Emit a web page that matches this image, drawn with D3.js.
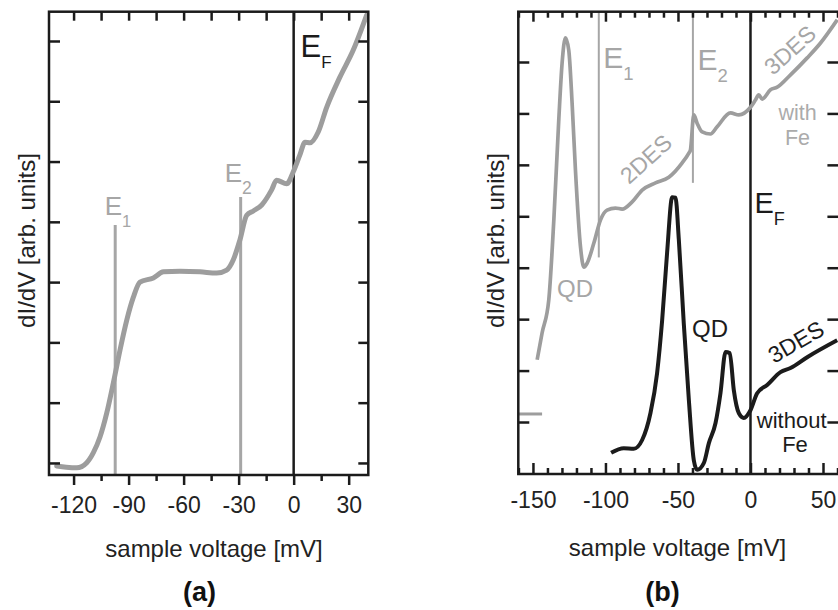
<!DOCTYPE html>
<html><head><meta charset="utf-8">
<script src="https://cdn.jsdelivr.net/npm/d3@7"></script>
<style>
body{margin:0;background:#fff}
svg{display:block}
text{font-family:"Liberation Sans",Arial,Helvetica,sans-serif}
</style>
</head><body>
<svg id="c" width="838" height="610"></svg>
<script>
// ---------- DATA ----------
// Panel (a): dI/dV spectrum
const aVolt = [-129.2,-124,-118.3,-112.8,-109.2,-105.6,-101.9,-98.3,-94.7,-91,-87.4,-83.8,-76.5,-71,-62,-51,-42,-36.5,-32.9,-29.3,-25.6,-22,-17.4,-12,-9.3,-3.8,-0.2,3.4,6.2,8.9,13.4,18,25.2,32.5,39.8];
const aDidv = [-0.05,-0.07,-0.08,0.005,0.17,0.43,0.83,1.33,1.87,2.37,2.75,3.0,3.07,3.17,3.18,3.17,3.15,3.2,3.37,3.70,4.11,4.18,4.28,4.53,4.69,4.63,4.83,5.11,5.32,5.31,5.49,5.90,6.40,6.85,7.43];
const aMajorTicks = [-120,-90,-60,-30,0,30];
const aMinorTicks = [-105,-75,-45,-15,15];
const aLevels = {E1:-97.3, E2:-28.9, EF:0};

// Panel (b): with Fe (gray) and without Fe (black)
const bWithVolt = [-147.1,-143.7,-139.1,-135.6,-132.2,-129.9,-127.6,-125.3,-123,-120.7,-117.2,-114.9,-112.6,-108,-103.4,-98.9,-93.1,-88.5,-81.6,-74.7,-65.5,-56.3,-47.1,-42.5,-41.4,-39.1,-36.8,-33.3,-27.6,-23,-13.8,-8,0,3.4,5.7,8,13.8,18.4,27.6,39.1,48.3,59.8];
const bWithDidv = [1.21,1.73,2.37,3.93,5.87,6.98,7.47,7.23,6.20,4.90,3.40,3.01,3.09,3.48,3.93,4.12,4.16,4.14,4.28,4.51,4.65,4.76,5.04,5.23,5.29,5.97,5.81,5.64,5.60,5.74,6.01,5.97,6.12,6.26,6.36,6.28,6.46,6.51,6.75,7.08,7.37,7.82];
const bWithoutVolt = [-96.1,-87.4,-80.5,-74.7,-69,-64.4,-60.9,-57.5,-54,-51.7,-49.4,-46,-42.5,-39.1,-36.8,-32.2,-28.7,-24.1,-20.7,-17.2,-14.3,-11.5,-8,-4.6,0,4.6,11.5,20.7,27.6,39.1,59.8];
const bWithoutDidv = [-0.60,-0.51,-0.52,-0.35,0.17,0.95,1.98,3.29,4.37,4.36,3.54,1.92,0.43,-0.74,-0.93,-0.80,-0.41,-0.02,0.56,1.36,1.34,0.62,0.17,0.08,0.23,0.56,0.72,0.97,1.05,1.26,1.59];
const bOffsetMark = [[-160.1,0.156],[-143.7,0.156]];
const bMajorTicks = [-150,-100,-50,0,50];
const bMinorTicks = d3.range(-160,61,10).filter(v => v % 50 !== 0);
const bLevels = {E1:-104.6, E2:-39.7, EF:0, E1top:3.2, E2top:4.65};

const yTickValues = [0,1,2,3,4,5,6,7];

// ---------- DRAW ----------
const svg = d3.select("#c");
const GRAY = "#9d9d9d", LGRAY = "#a6a6a6", INK = "#1b1b1b", TXT = "#222";

function styleAxis(g, w){
  g.select(".domain").remove();
  g.selectAll(".tick line").attr("stroke", INK).attr("stroke-width", w);
  g.selectAll(".tick text").attr("fill", TXT).attr("font-size", 23)
   .attr("font-family", '"Liberation Sans",Arial,sans-serif');
}

// ===== Panel (a) =====
const xA = d3.scaleLinear().domain([-133.4, 40.7]).range([49, 368.3]);
const yA = d3.scaleLinear().domain([-0.2, 7.486]).range([475, 11.7]);
const gA = svg.append("g");

gA.append("line").attr("x1", xA(aLevels.E1)).attr("x2", xA(aLevels.E1))
  .attr("y1", 225).attr("y2", yA.range()[0]).attr("stroke", LGRAY).attr("stroke-width", 3);
gA.append("line").attr("x1", xA(aLevels.E2)).attr("x2", xA(aLevels.E2))
  .attr("y1", 197).attr("y2", yA.range()[0]).attr("stroke", LGRAY).attr("stroke-width", 3);
gA.append("line").attr("x1", xA(aLevels.EF)).attr("x2", xA(aLevels.EF))
  .attr("y1", yA.range()[1]).attr("y2", yA.range()[0]).attr("stroke", INK).attr("stroke-width", 2.5);

const lineA = d3.line().x(d => xA(d[0])).y(d => yA(d[1])).curve(d3.curveMonotoneX);
gA.append("path").datum(d3.zip(aVolt, aDidv)).attr("d", lineA)
  .attr("fill", "none").attr("stroke", GRAY).attr("stroke-width", 5)
  .attr("stroke-linejoin", "round").attr("stroke-linecap", "round");

gA.append("rect").attr("x", 49).attr("y", 11.7).attr("width", 368.3-49).attr("height", 475-11.7)
  .attr("fill", "none").attr("stroke", INK).attr("stroke-width", 2.5);

let ax;
ax = gA.append("g").attr("transform", "translate(0,475)")
  .call(d3.axisBottom(xA).tickValues(aMajorTicks).tickSize(10).tickPadding(12).tickFormat(d => String(d)));
styleAxis(ax, 2.5);
ax = gA.append("g").attr("transform", "translate(0,475)")
  .call(d3.axisBottom(xA).tickValues(aMinorTicks).tickSize(6).tickFormat(""));
styleAxis(ax, 2.5);
ax = gA.append("g").attr("transform", "translate(0,11.7)")
  .call(d3.axisBottom(xA).tickValues(aMajorTicks.concat(aMinorTicks)).tickSize(9).tickFormat(""));
styleAxis(ax, 2.5);
ax = gA.append("g").attr("transform", "translate(49,0)")
  .call(d3.axisRight(yA).tickValues(yTickValues).tickSize(11).tickFormat(""));
styleAxis(ax, 2.5);
ax = gA.append("g").attr("transform", "translate(368.3,0)")
  .call(d3.axisLeft(yA).tickValues(yTickValues).tickSize(10).tickFormat(""));
styleAxis(ax, 2.5);

function eLabel(g, x, y, sub, size, subSize, dy, color){
  const t = g.append("text").attr("x", x).attr("y", y).attr("fill", color).attr("font-size", size);
  t.append("tspan").text("E");
  t.append("tspan").attr("font-size", subSize).attr("dy", dy).text(sub);
}
eLabel(gA, 300.5, 56.7, "F", 31, 17, 11.6, INK);
eLabel(gA, 224.7, 181.7, "2", 26, 17.5, 12.6, LGRAY);
eLabel(gA, 104.7, 215, "1", 26, 16.5, 11.7, LGRAY);

gA.append("text").attr("x", 214).attr("y", 557).attr("text-anchor", "middle")
  .attr("font-size", 24).attr("fill", TXT).text("sample voltage [mV]");
gA.append("text").attr("transform", "translate(35,240.5) rotate(-90)").attr("text-anchor", "middle")
  .attr("font-size", 24).attr("fill", TXT).text("dI/dV [arb. units]");
gA.append("text").attr("x", 199.5).attr("y", 601).attr("text-anchor", "middle")
  .attr("font-size", 27).attr("font-weight", "bold").attr("fill", "#111")
  .attr("font-family", '"DejaVu Sans",sans-serif').text("(a)");

// ===== Panel (b) =====
const xB = d3.scaleLinear().domain([-160.1, 62]).range([518.3, 840.4]);
const yB = d3.scaleLinear().domain([-1.011, 7.978]).range([474, 11.7]);
const gB = svg.append("g");

gB.append("line").attr("x1", xB(bLevels.E1)).attr("x2", xB(bLevels.E1))
  .attr("y1", yB.range()[1]).attr("y2", yB(bLevels.E1top)).attr("stroke", LGRAY).attr("stroke-width", 2);
gB.append("line").attr("x1", xB(bLevels.E2)).attr("x2", xB(bLevels.E2))
  .attr("y1", yB.range()[1]).attr("y2", yB(bLevels.E2top)).attr("stroke", LGRAY).attr("stroke-width", 2);
gB.append("line").attr("x1", xB(bLevels.EF)).attr("x2", xB(bLevels.EF))
  .attr("y1", yB.range()[1]).attr("y2", yB.range()[0]).attr("stroke", INK).attr("stroke-width", 2.5);

const lineB = d3.line().x(d => xB(d[0])).y(d => yB(d[1])).curve(d3.curveMonotoneX);
gB.append("path").datum(bOffsetMark).attr("d", d3.line().x(d => xB(d[0])).y(d => yB(d[1])))
  .attr("fill", "none").attr("stroke", GRAY).attr("stroke-width", 3);
gB.append("path").datum(d3.zip(bWithVolt, bWithDidv)).attr("d", lineB)
  .attr("fill", "none").attr("stroke", GRAY).attr("stroke-width", 3.7)
  .attr("stroke-linejoin", "round").attr("stroke-linecap", "butt");
gB.append("path").datum(d3.zip(bWithoutVolt, bWithoutDidv)).attr("d", lineB)
  .attr("fill", "none").attr("stroke", INK).attr("stroke-width", 4)
  .attr("stroke-linejoin", "round").attr("stroke-linecap", "butt");

gB.append("rect").attr("x", 518.3).attr("y", 11.7).attr("width", 840.4-518.3).attr("height", 474-11.7)
  .attr("fill", "none").attr("stroke", INK).attr("stroke-width", 2.5);

ax = gB.append("g").attr("transform", "translate(0,474)")
  .call(d3.axisBottom(xB).tickValues(bMajorTicks).tickSize(-11).tickPadding(18).tickFormat(d => String(d)));
styleAxis(ax, 2.5);
ax = gB.append("g").attr("transform", "translate(0,474)")
  .call(d3.axisBottom(xB).tickValues(bMinorTicks).tickSize(-6).tickFormat(""));
styleAxis(ax, 2.5);
ax = gB.append("g").attr("transform", "translate(0,11.7)")
  .call(d3.axisBottom(xB).tickValues(bMajorTicks).tickSize(10).tickFormat(""));
styleAxis(ax, 2.5);
ax = gB.append("g").attr("transform", "translate(0,11.7)")
  .call(d3.axisBottom(xB).tickValues(bMinorTicks).tickSize(6).tickFormat(""));
styleAxis(ax, 2.5);
ax = gB.append("g").attr("transform", "translate(518.3,0)")
  .call(d3.axisRight(yB).tickValues(yTickValues).tickSize(11).tickFormat(""));
styleAxis(ax, 2.5);
ax = gB.append("g").attr("transform", "translate(840.4,0)")
  .call(d3.axisLeft(yB).tickValues(yTickValues).tickSize(13).tickFormat(""));
styleAxis(ax, 2.5);

eLabel(gB, 603.3, 68.3, "1", 30, 18.5, 11.7, LGRAY);
eLabel(gB, 697.6, 70, "2", 30, 18.5, 11.7, LGRAY);
eLabel(gB, 754.4, 213.3, "F", 29, 18, 11.7, INK);

function rotLabel(g, cx, cy, ang, txt, size, color){
  g.append("text").attr("transform", `translate(${cx},${cy}) rotate(${ang})`)
   .attr("text-anchor", "middle").attr("dominant-baseline", "central")
   .attr("font-size", size).attr("fill", color).text(txt);
}
rotLabel(gB, 790, 50, -42, "3DES", 23, LGRAY);
rotLabel(gB, 646, 159, -42, "2DES", 23, LGRAY);
rotLabel(gB, 796, 342, -30, "3DES", 23, INK);

function plainLabel(g, cx, by, txt, size, color){
  g.append("text").attr("x", cx).attr("y", by).attr("text-anchor", "middle")
   .attr("font-size", size).attr("fill", color).text(txt);
}
plainLabel(gB, 797.5, 120, "with", 21.5, "#ababab");
plainLabel(gB, 797.5, 145, "Fe", 21.5, "#ababab");
plainLabel(gB, 575, 297, "QD", 24, LGRAY);
plainLabel(gB, 710, 336.7, "QD", 24, INK);
plainLabel(gB, 791.7, 428, "without", 22, INK);
plainLabel(gB, 795, 452, "Fe", 22, INK);

gB.append("text").attr("x", 677.5).attr("y", 556).attr("text-anchor", "middle")
  .attr("font-size", 24).attr("fill", TXT).text("sample voltage [mV]");
gB.append("text").attr("transform", "translate(504,240.5) rotate(-90)").attr("text-anchor", "middle")
  .attr("font-size", 24).attr("fill", TXT).text("dI/dV [arb. units]");
gB.append("text").attr("x", 662.5).attr("y", 601).attr("text-anchor", "middle")
  .attr("font-size", 27).attr("font-weight", "bold").attr("fill", "#111")
  .attr("font-family", '"DejaVu Sans",sans-serif').text("(b)");
</script>
</body></html>
